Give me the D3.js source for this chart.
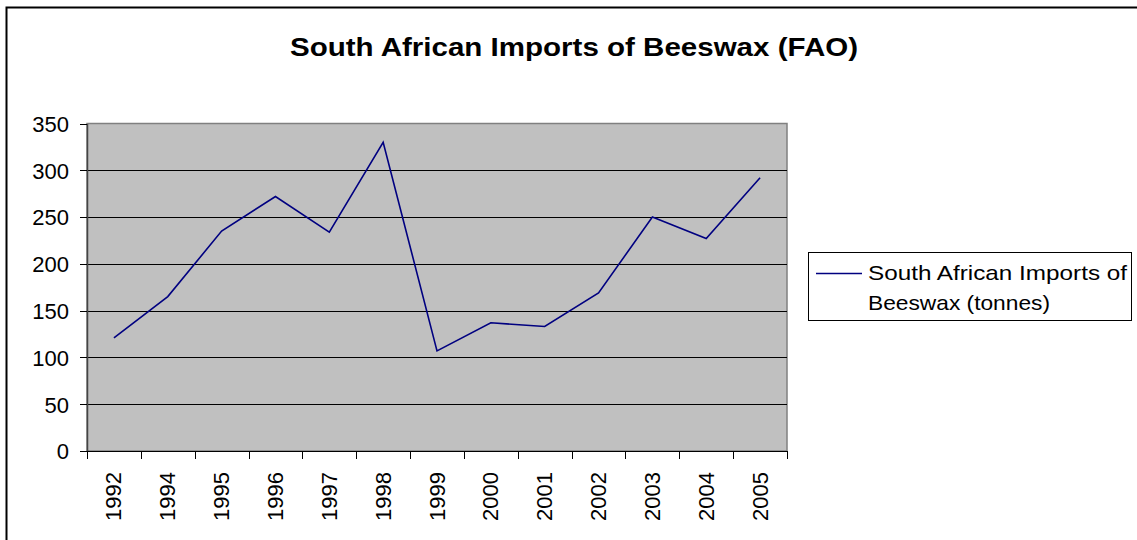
<!DOCTYPE html>
<html>
<head>
<meta charset="UTF-8" />
<title>South African Imports of Beeswax</title>
<script src="https://cdn.jsdelivr.net/npm/d3@7"></script>
<style type="text/css">
body {
    margin: 0;
    background-color: #fff;
    font-family: Arial, "Liberation Sans", sans-serif;
}
.grid line { stroke: #000; stroke-width: 1; shape-rendering: crispEdges; }
.axis line { stroke: #000; shape-rendering: crispEdges; }
.axis text { font-size: 22px; fill: #000; font-family: Arial, "Liberation Sans", sans-serif; }
</style>
</head>
<body>
<svg width="1137" height="540" id="svg1"></svg>

<script type="text/javascript">
var years = ['1992', '1994', '1995', '1996', '1997', '1998', '1999', '2000', '2001', '2002', '2003', '2004', '2005'];
var imports = [121, 165, 235, 272, 234, 330, 107, 137, 133, 169, 250, 227, 292];
var yTicks = [0, 50, 100, 150, 200, 250, 300, 350];

var svg = d3.select("#svg1");

// outer chart border (only top and left show in the picture)
svg.append("rect")
    .attr("x", 6.5).attr("y", 7.5)
    .attr("width", 1200).attr("height", 600)
    .attr("fill", "#fff").attr("stroke", "#000").attr("stroke-width", 2);

var plotLeft = 87, plotRight = 787, plotTop = 123.5, plotBottom = 451;

var x = d3.scaleBand().domain(years).range([plotLeft, plotRight]);
var y = d3.scaleLinear().domain([0, 350]).range([plotBottom, plotTop]);

// plot area
svg.append("rect")
    .attr("x", plotLeft).attr("y", plotTop)
    .attr("width", plotRight - plotLeft).attr("height", plotBottom - plotTop)
    .attr("fill", "#c0c0c0").attr("stroke", "#808080").attr("stroke-width", 1.5);

svg.append("g").attr("class", "grid").selectAll("line")
    .data(yTicks.filter(function(d) { return d > 0 && d < 350; }))
    .enter().append("line")
    .attr("x1", plotLeft).attr("x2", plotRight)
    .attr("y1", function(d) { return Math.round(y(d)) + 0.5; })
    .attr("y2", function(d) { return Math.round(y(d)) + 0.5; });

// y axis
var yAxis = svg.append("g").attr("class", "axis")
    .attr("transform", "translate(" + plotLeft + ",0)")
    .call(d3.axisLeft(y).tickValues(yTicks).tickSize(7).tickPadding(11).tickSizeOuter(0));
yAxis.select(".domain").attr("stroke", "#444").attr("stroke-width", 1.5);
yAxis.selectAll("text").attr("dy", "0.36em");

// x axis, ticks between categories
var xAxis = svg.append("g").attr("class", "axis")
    .attr("transform", "translate(0," + plotBottom + ")");
xAxis.append("line")
    .attr("x1", plotLeft).attr("x2", plotRight)
    .attr("stroke", "#000");
var bounds = years.map(function(d) { return x(d); }).concat([plotRight]);
xAxis.selectAll(".tk").data(bounds).enter().append("line")
    .attr("class", "tk")
    .attr("x1", function(d) { return Math.round(d) + 0.5; })
    .attr("x2", function(d) { return Math.round(d) + 0.5; })
    .attr("y1", 0).attr("y2", 8);
xAxis.selectAll("text").data(years).enter().append("text")
    .attr("transform", function(d) {
        return "translate(" + (x(d) + x.bandwidth() / 2 + 7.5) + ",21) rotate(-90)";
    })
    .attr("text-anchor", "end")
    .text(function(d) { return d; });

// series line
var line = d3.line()
    .x(function(d, i) { return x(years[i]) + x.bandwidth() / 2; })
    .y(function(d) { return y(d); });

svg.append("path")
    .datum(imports)
    .attr("d", line)
    .attr("fill", "none")
    .attr("stroke", "#000080")
    .attr("stroke-width", 1.6);

// title
svg.append("text")
    .attr("x", 290).attr("y", 56)
    .attr("font-size", "25px")
    .attr("font-weight", "bold")
    .attr("fill", "#000")
    .attr("textLength", 568)
    .attr("lengthAdjust", "spacingAndGlyphs")
    .text("South African Imports of Beeswax (FAO)");

// legend
var legend = svg.append("g");
legend.append("rect")
    .attr("x", 808.5).attr("y", 252.5)
    .attr("width", 323).attr("height", 68)
    .attr("fill", "#fff").attr("stroke", "#000").attr("stroke-width", 1);
legend.append("line")
    .attr("x1", 816).attr("x2", 862)
    .attr("y1", 273.5).attr("y2", 273.5)
    .attr("stroke", "#000080").attr("stroke-width", 1.6);
legend.append("text")
    .attr("x", 868).attr("y", 280)
    .attr("font-size", "21px").attr("fill", "#000")
    .attr("textLength", 259).attr("lengthAdjust", "spacingAndGlyphs")
    .text("South African Imports of");
legend.append("text")
    .attr("x", 868).attr("y", 310)
    .attr("font-size", "21px").attr("fill", "#000")
    .attr("textLength", 182).attr("lengthAdjust", "spacingAndGlyphs")
    .text("Beeswax (tonnes)");
</script>
</body>
</html>
